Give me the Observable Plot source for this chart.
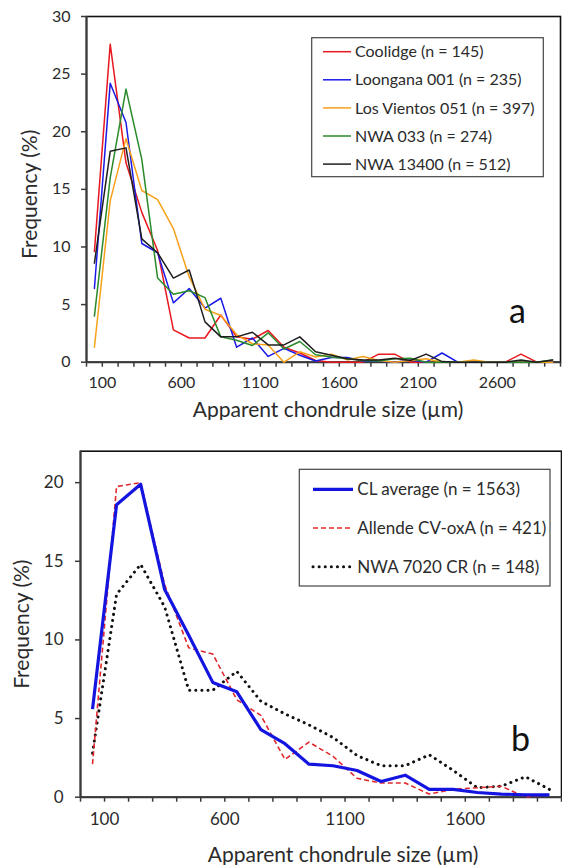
<!DOCTYPE html>
<html><head><meta charset="utf-8">
<script src="https://cdn.jsdelivr.net/npm/d3@7"></script>
<script src="https://cdn.jsdelivr.net/npm/@observablehq/plot@0.6"></script>
<style>
body{margin:0;background:#fff;}
#chart svg{display:block;}
</style></head><body><div id="chart"></div>
<script>
// ---------- Panel a data ----------
const binsA = [50,150,250,350,450,550,650,750,850,950,1050,1150,1250,1350,1450,1550,1650,1750,1850,1950,2050,2150,2250,2350,2450,2550,2650,2750,2850,2950];
const namesA = ["Coolidge (n = 145)","Loongana 001 (n = 235)","Los Vientos 051 (n = 397)","NWA 033 (n = 274)","NWA 13400 (n = 512)"];
const coolidge   = [9.6,27.6,17.3,13.0,9.7,2.8,2.1,2.1,4.1,2.2,2.0,2.75,1.3,0.8,0.15,0,0,0,0.7,0.7,0,0,0,0,0,0,0,0.7,0,0];
const loongana   = [6.4,24.2,20.8,10.3,9.5,5.15,6.4,4.7,5.55,1.3,2.1,0.5,1.2,0.6,0.1,0.4,0.4,0.1,0.1,0,0.2,0,0.8,0,0,0,0,0,0,0];
const losVientos = [1.3,14.0,19.4,14.9,14.1,11.6,7.4,4.6,4.05,2.4,1.6,1.5,0,0.9,0.45,0.7,0.2,0.5,0.15,0,0.15,0.3,0,0,0.2,0,0,0,0,0];
const nwa033     = [4.0,16.0,23.7,17.6,7.3,5.9,6.2,5.6,2.2,1.9,1.45,2.55,1.15,1.8,0.65,0.45,0.3,0.15,0.1,0.3,0.35,0,0,0,0,0,0,0,0,0.2];
const nwa13400   = [8.6,18.3,18.6,10.7,9.5,7.3,8.0,3.5,2.2,2.2,2.6,1.5,1.5,2.2,0.9,0.6,0.3,0.2,0.2,0.35,0.15,0.7,0.05,0,0,0,0,0.2,0,0.2];
const valuesA = [coolidge, loongana, losVientos, nwa033, nwa13400];
const colorsA = ["#e8181e","#1a1ae6","#f7a11a","#2a8a2a","#1e1e1e"];
const yTicksA = [0,5,10,15,20,25,30];
const xLabelsA = [100,600,1100,1600,2100,2600];

// ---------- Panel b data ----------
const binsB = [50,150,250,350,450,550,650,750,850,950,1050,1150,1250,1350,1450,1550,1650,1750,1850,1950];
const namesB = ["CL average (n = 1563)","Allende CV-oxA (n = 421)","NWA 7020 CR (n = 148)"];
const clAverage = [5.6,18.6,19.9,13.2,10.3,7.3,6.7,4.3,3.4,2.1,2.0,1.7,1.0,1.4,0.5,0.5,0.3,0.2,0.15,0.15];
const allende   = [2.1,19.75,20.0,13.5,9.5,9.1,6.2,5.2,2.4,3.5,2.6,1.2,0.9,0.9,0.2,0.5,0.6,0.7,0.0,0.2];
const nwa7020   = [2.8,12.9,14.8,12.1,6.8,6.8,8.0,6.1,5.3,4.6,3.8,2.65,2.0,2.0,2.7,1.7,0.6,0.7,1.3,0.5];
const valuesB = [clAverage, allende, nwa7020];
const yTicksB = [0,5,10,15,20];
const xLabelsB = [100,600,1100,1600];

const FONT = "Lato, 'Open Sans', sans-serif";
const TXT = "#2b2b2b";
const AX = "#3a3a3a";

function rows(bins, values, names) {
  return names.flatMap((n, i) => bins.map((b, j) => ({size: b, freq: values[i][j], series: n})));
}

function legend(svg, box, items, fontSize) {
  const g = d3.select(svg).append("g").attr("font-family", FONT).attr("font-size", fontSize)
    .attr("fill", TXT).attr("text-anchor", "start");
  g.append("rect").attr("x", box.x).attr("y", box.y).attr("width", box.w).attr("height", box.h)
    .attr("fill", "white").attr("stroke", "#444").attr("stroke-width", 1.2);
  items.forEach((it, i) => {
    const y = box.row0 + i * box.step;
    g.append("line").attr("x1", box.lx0).attr("x2", box.lx1).attr("y1", y).attr("y2", y)
      .attr("stroke", it.color).attr("stroke-width", it.width)
      .attr("stroke-dasharray", it.dash || null).attr("stroke-linecap", it.cap || "butt");
    g.append("text").attr("x", box.tx).attr("y", y).attr("dy", "0.35em")
      .attr("text-anchor", "start").text(it.label);
  });
}

// ---------- Panel a ----------
const dataA = rows(binsA, valuesA, namesA);
const plotA = Plot.plot({
  width: 562, height: 420,
  marginLeft: 86, marginRight: 2, marginTop: 16, marginBottom: 58.3,
  style: {fontFamily: FONT, color: TXT, background: "white"},
  x: {domain: [0, 3000]},
  y: {domain: [0, 30]},
  color: {domain: namesA, range: colorsA},
  marks: [
    Plot.frame({stroke: "#111", strokeWidth: 1.6}),
    Plot.ruleX([0], {stroke: AX, strokeWidth: 2}),
    Plot.ruleY([0], {stroke: AX, strokeWidth: 2}),
    Plot.axisY({ticks: yTicksA, tickSize: 5, tickPadding: 11, fontSize: 16, label: null, stroke: AX, strokeWidth: 1.5}),
    Plot.axisX({ticks: d3.range(0, 3001, 100), tickFormat: d => xLabelsA.includes(d) ? String(d) : "",
      tickSize: 5, tickPadding: 9, fontSize: 16, label: null, stroke: AX, strokeWidth: 1.5}),
    ...namesA.map(n => Plot.line(dataA.filter(d => d.series === n), {x: "size", y: "freq", stroke: "series", strokeWidth: 1.5})),
    Plot.text(["Apparent chondrule size (µm)"], {frameAnchor: "bottom", dx: 4.5, dy: 48, fontSize: 21, textAnchor: "middle", lineAnchor: "middle", fill: TXT}),
    Plot.text(["Frequency (%)"], {frameAnchor: "left", dx: -56, dy: 5, rotate: -90, fontSize: 21, textAnchor: "middle", lineAnchor: "middle", fill: TXT}),
    Plot.text(["a"], {frameAnchor: "bottom-right", dx: -43, dy: -50, fontSize: 34, textAnchor: "middle", lineAnchor: "middle", fill: "#111"})
  ]
});
legend(plotA, {x: 311.7, y: 37.7, w: 231.6, h: 139, row0: 51.7, step: 28.1, lx0: 323, lx1: 351, tx: 355},
  namesA.map((n, i) => ({label: n, color: colorsA[i], width: 1.5})), 16);

// ---------- Panel b ----------
const dataB = rows(binsB, valuesB, namesB);
const stylesB = [
  {color: "#1414e0", width: 3.2, dash: null, cap: "butt"},
  {color: "#e0282d", width: 1.6, dash: "5,3", cap: "butt"},
  {color: "#111111", width: 3, dash: "0.1,6", cap: "round"}
];
const plotB = Plot.plot({
  width: 562, height: 445,
  marginLeft: 80, marginRight: 1, marginTop: 30.7, marginBottom: 68.3,
  style: {fontFamily: FONT, color: TXT, background: "white"},
  x: {domain: [0, 2000]},
  y: {domain: [0, 22]},
  marks: [
    Plot.frame({stroke: "#111", strokeWidth: 1.6}),
    Plot.ruleX([0], {stroke: AX, strokeWidth: 2}),
    Plot.ruleY([0], {stroke: AX, strokeWidth: 2}),
    Plot.axisY({ticks: yTicksB, tickSize: 5, tickPadding: 12, fontSize: 17, label: null, stroke: AX, strokeWidth: 1.5}),
    Plot.axisX({ticks: d3.range(0, 2001, 100), tickFormat: d => xLabelsB.includes(d) ? String(d) : "",
      tickSize: 5, tickPadding: 11, fontSize: 17, label: null, stroke: AX, strokeWidth: 1.5}),
    ...[2, 1, 0].map(i => Plot.line(dataB.filter(d => d.series === namesB[i]), {x: "size", y: "freq",
      stroke: stylesB[i].color, strokeWidth: stylesB[i].width, strokeDasharray: stylesB[i].dash,
      strokeLinecap: stylesB[i].cap})),
    Plot.text(["Apparent chondrule size (µm)"], {frameAnchor: "bottom", dx: 22, dy: 58, fontSize: 21, textAnchor: "middle", lineAnchor: "middle", fill: TXT}),
    Plot.text(["Frequency (%)"], {frameAnchor: "left", dx: -58, dy: 0, rotate: -90, fontSize: 21, textAnchor: "middle", lineAnchor: "middle", fill: TXT}),
    Plot.text(["b"], {frameAnchor: "bottom-right", dx: -41, dy: -57, fontSize: 34, textAnchor: "middle", lineAnchor: "middle", fill: "#111"})
  ]
});
legend(plotB, {x: 299.3, y: 49.3, w: 250.7, h: 116.7, row0: 69.3, step: 38.7, lx0: 313, lx1: 353, tx: 357.3},
  namesB.map((n, i) => ({label: n, ...stylesB[i]})), 17);

document.getElementById("chart").append(plotA, plotB);
</script></body></html>
